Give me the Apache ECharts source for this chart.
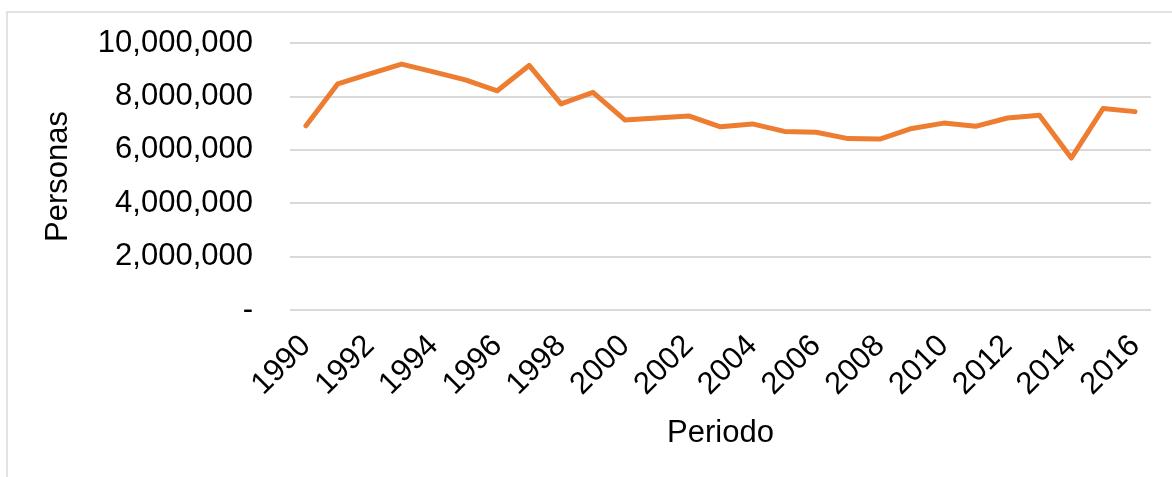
<!DOCTYPE html>
<html>
<head>
<meta charset="utf-8">
<script src="https://cdn.jsdelivr.net/npm/echarts@6/dist/echarts.min.js"></script>
<style>
  html,body{margin:0;padding:0;background:#fff;}
  #chart{width:1172px;height:477px;}
</style>
</head>
<body>
<div id="chart"></div>
<script>
  var years = ['1990','1991','1992','1993','1994','1995','1996','1997','1998','1999',
    '2000','2001','2002','2003','2004','2005','2006','2007','2008','2009',
    '2010','2011','2012','2013','2014','2015','2016'];
  var personas = [6900000, 8470000, 8840000, 9210000, 8920000, 8620000, 8210000, 9160000, 7720000, 8150000,
    7120000, 7190000, 7270000, 6860000, 6970000, 6690000, 6660000, 6420000, 6400000, 6800000,
    7000000, 6880000, 7190000, 7290000, 5690000, 7550000, 7430000];
  var yTicks = [0, 2000000, 4000000, 6000000, 8000000, 10000000];

  var font = 'Liberation Sans, Arial, sans-serif';
  var myChart = echarts.init(document.getElementById('chart'));
  var option = {
    animation: false,
    graphic: [{
      type: 'rect',
      shape: {x: 7, y: 12, width: 1200, height: 500},
      style: {fill: 'none', stroke: '#d9d9d9', lineWidth: 1.5},
      silent: true
    }],
    grid: {left: 290, right: 21, top: 43, bottom: 167},
    xAxis: {
      type: 'category',
      data: years,
      boundaryGap: true,
      name: 'Periodo',
      nameLocation: 'middle',
      nameGap: 108,
      nameTextStyle: {color: '#000', fontSize: 31, fontFamily: font},
      axisLine: {show: false},
      axisTick: {show: false},
      axisLabel: {
        interval: 1,
        rotate: 45,
        margin: 31,
        color: '#000',
        fontSize: 31,
        fontFamily: font
      }
    },
    yAxis: {
      type: 'value',
      min: yTicks[0],
      max: yTicks[yTicks.length - 1],
      interval: 2000000,
      name: 'Personas',
      nameLocation: 'middle',
      nameGap: 216,
      nameTextStyle: {color: '#000', fontSize: 31, fontFamily: font},
      axisLine: {show: false},
      axisTick: {show: false},
      axisLabel: {
        margin: 37,
        color: '#000',
        fontSize: 31,
        fontFamily: font,
        formatter: function(v){
          return v === 0 ? '-' : v.toLocaleString('en-US');
        }
      },
      splitLine: {lineStyle: {color: '#d9d9d9', width: 2}}
    },
    series: [{
      name: 'Personas',
      type: 'line',
      data: personas,
      symbol: 'none',
      lineStyle: {color: '#ED7D31', width: 5, cap: 'round', join: 'round'},
      itemStyle: {color: '#ED7D31'}
    }]
  };
  myChart.setOption(option);
</script>
</body>
</html>
